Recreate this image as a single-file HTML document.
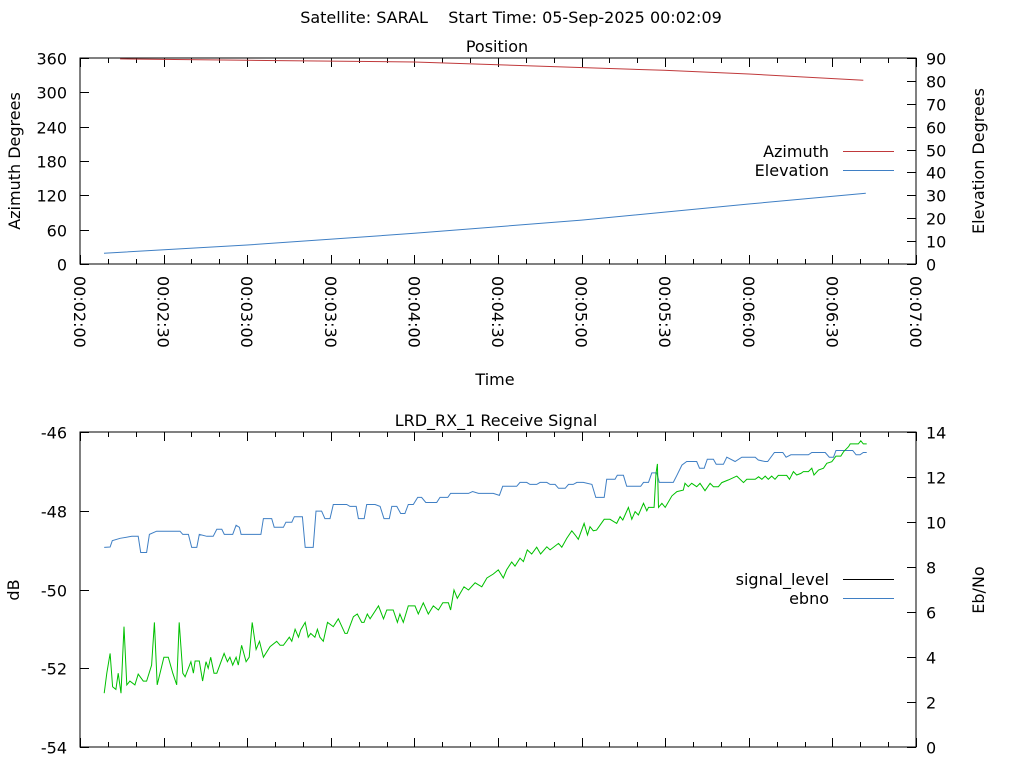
<!DOCTYPE html>
<html><head><meta charset="utf-8"><style>
html,body{margin:0;padding:0;background:#fff;}
svg{display:block;font-family:"DejaVu Sans","Liberation Sans",sans-serif;font-size:16px;fill:#000;}
</style></head><body>
<svg id="c" width="1024" height="768" viewBox="0 0 1024 768" xmlns="http://www.w3.org/2000/svg">
<rect width="1024" height="768" fill="#fff"/>
<text x="511" y="23" text-anchor="middle" xml:space="preserve">Satellite: SARAL    Start Time: 05-Sep-2025 00:02:09</text>
<text x="497" y="52" text-anchor="middle">Position</text>
<text x="496" y="426" text-anchor="middle">LRD_RX_1 Receive Signal</text>
<text transform="translate(20,161) rotate(-90)" text-anchor="middle">Azimuth Degrees</text>
<text transform="translate(984,161) rotate(-90)" text-anchor="middle">Elevation Degrees</text>
<text x="495" y="385" text-anchor="middle">Time</text>
<text transform="translate(19,590) rotate(-90)" text-anchor="middle">dB</text>
<text transform="translate(984,590) rotate(-90)" text-anchor="middle">Eb/No</text>
<g id="g"></g>
</svg>
<script>
// time in seconds after 00:02:00
const azTime=[14.4,60,120,209.5,240,281.1];
const azimuth=[358.4,356,353,338.5,332,321];
const elTime=[8.6,60,120,180,240,282];
const elevation=[4.7,8.3,13.4,19.2,26.2,30.9];
const topTickLabels=["00:02:00","00:02:30","00:03:00","00:03:30","00:04:00","00:04:30","00:05:00","00:05:30","00:06:00","00:06:30","00:07:00"];
const azTicks=[0,60,120,180,240,300,360];
const elTicks=[0,10,20,30,40,50,60,70,80,90];
const dbTicks=[-54,-52,-50,-48,-46];
const ebTicks=[0,2,4,6,8,10,12,14];
const blueTime=[8.7,10.8,11.6,14.4,18.6,20.9,21.8,23.9,24.9,27.5,35.9,36.9,38.9,40.1,41.9,42.8,45.5,47.8,49.1,50.9,51.8,54.8,56.0,57.2,57.8,64.9,65.8,68.8,69.7,73.0,73.9,76.0,76.9,79.8,80.8,83.7,84.7,86.7,87.9,89.7,90.9,95.7,96.9,99.1,99.9,102.0,102.9,105.9,107.7,109.1,111.0,111.9,113.7,115.1,116.6,117.8,119.6,121.2,122.6,124.1,128.0,129.2,132.0,133.0,139.4,140.9,143.0,148.3,150.5,151.7,156.7,157.9,160.3,161.5,163.9,165.1,167.5,168.7,170.5,171.7,174.1,175.3,177.0,178.3,180.6,183.7,185.1,188.1,189.0,192.0,192.8,195.0,196.2,201.2,202.2,204.0,205.2,207.0,207.9,212.9,214.2,216.0,217.7,221.3,222.3,224.0,225.1,227.3,228.3,230.9,232.1,235.1,237.5,242.3,243.4,245.8,246.8,249.2,252.2,253.4,255.1,261.4,262.6,267.4,268.9,270.4,271.3,277.3,278.5,279.9,281.1,282.3];
const blueDb=[-48.93,-48.92,-48.76,-48.70,-48.65,-48.65,-49.06,-49.06,-48.60,-48.52,-48.52,-48.60,-48.60,-48.93,-48.93,-48.60,-48.65,-48.65,-48.47,-48.47,-48.60,-48.60,-48.37,-48.42,-48.60,-48.60,-48.20,-48.20,-48.42,-48.42,-48.29,-48.29,-48.15,-48.15,-48.93,-48.93,-48.01,-48.01,-48.20,-48.20,-47.84,-47.84,-47.89,-47.89,-48.20,-48.20,-47.84,-47.84,-47.89,-48.20,-48.20,-47.89,-47.89,-48.07,-48.07,-47.84,-47.84,-47.66,-47.66,-47.79,-47.79,-47.66,-47.66,-47.56,-47.56,-47.51,-47.56,-47.56,-47.61,-47.38,-47.38,-47.28,-47.28,-47.33,-47.33,-47.28,-47.28,-47.33,-47.33,-47.43,-47.43,-47.33,-47.33,-47.28,-47.28,-47.33,-47.66,-47.66,-47.20,-47.20,-47.10,-47.10,-47.38,-47.38,-47.28,-47.28,-47.04,-47.04,-47.28,-47.28,-47.10,-46.84,-46.75,-46.75,-46.92,-46.92,-46.69,-46.69,-46.82,-46.82,-46.64,-46.75,-46.64,-46.64,-46.71,-46.75,-46.75,-46.52,-46.52,-46.64,-46.58,-46.58,-46.52,-46.52,-46.64,-46.64,-46.47,-46.47,-46.58,-46.58,-46.52,-46.52];
const greenTime=[8.7,9.6,10.8,11.7,12.9,13.7,14.7,15.8,16.8,17.9,19.7,20.9,22.7,23.9,25.7,26.7,27.7,30.1,31.7,33.3,34.7,35.6,36.9,37.7,39.8,40.7,41.3,42.8,44.0,45.2,46.0,46.9,48.1,49.1,51.7,52.9,53.8,54.8,56.0,56.8,58.0,59.6,60.7,61.8,63.2,64.4,65.8,68.2,70.6,71.8,73.0,75.1,76.0,77.2,78.4,79.2,80.8,81.9,82.8,84.3,85.2,86.1,87.3,88.8,90.9,92.7,95.1,95.9,98.1,99.5,101.1,101.9,103.1,104.1,107.1,108.9,110.1,112.4,113.9,114.8,116.0,117.8,120.2,121.4,123.2,125.0,126.8,128.6,130.2,132.2,133.0,134.2,135.4,137.8,139.4,141.8,144.2,146.0,148.3,150.1,151.9,153.1,154.9,156.1,157.9,159.1,160.5,162.1,163.9,165.3,167.5,168.7,171.7,172.9,174.7,176.5,177.7,178.8,180.9,182.1,183.0,184.2,185.4,188.1,190.2,192.6,193.8,194.8,196.8,198.0,199.2,200.4,202.2,203.4,204.0,206.0,206.7,207.2,207.6,208.8,210.0,212.4,214.2,216.5,217.1,218.3,219.5,221.3,222.5,224.3,226.1,227.3,229.1,230.3,232.7,235.7,238.1,239.3,242.3,243.5,244.7,245.9,247.0,248.2,249.4,250.6,253.6,254.6,256.0,257.2,258.7,259.6,261.4,262.6,263.4,265.0,266.8,268.0,269.8,271.3,273.0,274.0,275.8,276.4,279.3,280.2,281.1,282.3];
const greenEbno=[2.39,3.28,4.16,2.68,2.56,3.28,2.39,5.35,2.76,2.93,2.76,3.24,2.93,2.93,3.64,5.54,2.76,3.99,3.99,3.28,2.76,5.54,3.28,3.12,3.79,3.28,3.82,3.82,2.93,3.79,3.50,3.99,3.28,3.28,4.16,3.79,3.99,3.64,3.99,3.64,4.52,3.79,3.99,5.54,4.34,4.70,3.99,4.46,4.70,4.52,4.52,4.88,4.70,5.23,4.88,5.20,5.54,4.88,5.05,4.88,5.23,4.88,4.70,5.54,5.35,5.70,5.05,5.05,5.79,5.91,5.54,5.54,5.91,5.70,6.27,5.70,6.09,6.09,5.54,5.91,5.54,6.27,6.27,5.91,6.41,5.91,6.27,6.09,6.41,6.41,6.09,6.98,6.61,7.12,6.98,7.30,7.12,7.51,7.69,7.87,7.51,7.87,8.22,8.04,8.39,8.24,8.76,8.58,8.88,8.58,8.90,8.76,9.05,8.88,9.28,9.61,9.42,9.23,9.94,9.42,9.79,9.61,9.64,10.12,10.12,9.94,10.24,10.09,10.65,10.12,10.46,10.31,10.83,10.50,10.65,10.65,12.16,12.58,10.65,10.83,10.65,11.16,11.35,11.42,11.72,11.57,11.72,11.57,11.72,11.39,11.72,11.57,11.57,11.75,11.87,12.04,11.75,11.90,11.90,12.01,11.90,12.04,11.90,12.04,11.90,12.07,12.07,11.90,12.24,12.09,12.16,12.24,12.24,12.39,12.09,12.31,12.39,12.61,12.68,12.93,12.93,13.12,13.35,13.47,13.47,13.61,13.47,13.47];

const NS='http://www.w3.org/2000/svg';
const g=document.getElementById('g');
function mk(tag,attrs,parent){const e=document.createElementNS(NS,tag);for(const k in attrs)e.setAttribute(k,attrs[k]);(parent||g).appendChild(e);return e;}
const X0=80,X1=916;
const xs=t=>X0+(t/300)*(X1-X0);
const T={top:58,bot:264},B={top:432,bot:747};
const yAz=v=>T.bot-(v/360)*(T.bot-T.top);
const yEl=v=>T.bot-(v/90)*(T.bot-T.top);
const yDb=v=>B.bot-((v+54)/8)*(B.bot-B.top);
const yEb=v=>B.bot-(v/14)*(B.bot-B.top);

function frame(P,name){
  const r=mk('rect',{x:X0,y:P.top,width:X1-X0,height:P.bot-P.top,fill:'none',stroke:'#000','stroke-width':1});
  
  
  for(let s=0;s<=300;s+=10){
    const x=Math.round(xs(s))+0.5, len=(s%30===0)?9:5;
    mk('line',{x1:x,x2:x,y1:P.bot,y2:P.bot-len,stroke:'#000'});
    mk('line',{x1:x,x2:x,y1:P.top,y2:P.top+len,stroke:'#000'});
  }
}
frame(T,'position-plot-frame');frame(B,'signal-plot-frame');

topTickLabels.forEach((l,i)=>{
  const t=mk('text',{transform:`translate(${xs(i*30)-6},276) rotate(90)`});
  t.textContent=l;
  
  
});
function yTicks(arr,fy,side,lbl){
  arr.forEach(v=>{
    const y=Math.round(fy(v))+0.5;
    if(side==='L'){mk('line',{x1:X0,x2:X0+9,y1:y,y2:y,stroke:'#000'});}
    else{mk('line',{x1:X1,x2:X1-9,y1:y,y2:y,stroke:'#000'});}
    const t=mk('text',{x:side==='L'?X0-13:X1+10,y:y+6,'text-anchor':side==='L'?'end':'start'});
    t.textContent=v;
    
    
  });
}
yTicks(azTicks,yAz,'L','azimuth-tick-label');
yTicks(elTicks,yEl,'R','elevation-tick-label');
yTicks(dbTicks,yDb,'L','db-tick-label');
yTicks(ebTicks,yEb,'R','ebno-tick-label');

function line(ts,vs,fy,color,name){
  const p=ts.map((t,i)=>xs(t).toFixed(1)+','+fy(vs[i]).toFixed(1)).join(' ');
  const e=mk('polyline',{points:p,fill:'none',stroke:color,'stroke-width':1});
  
  
}
line(azTime,azimuth,yAz,'#c0393b','azimuth-line');
line(elTime,elevation,yEl,'#3f7fc4','elevation-line');
line(blueTime,blueDb,yDb,'#3f7fc4','ebno-line');
line(greenTime,greenEbno,yEb,'#00c000','signal-level-line');

function legend(y,label,color,name){
  const t=mk('text',{x:829,y:y+6,'text-anchor':'end'});t.textContent=label;
  
  
  const l=mk('line',{x1:843,x2:894,y1:y+0.5,y2:y+0.5,stroke:color});
  
  
}
legend(151,'Azimuth','#c0393b','legend-azimuth');
legend(170,'Elevation','#3f7fc4','legend-elevation');
legend(579,'signal_level','#000','legend-signal-level');
legend(598,'ebno','#3f7fc4','legend-ebno');
</script>
</body></html>
